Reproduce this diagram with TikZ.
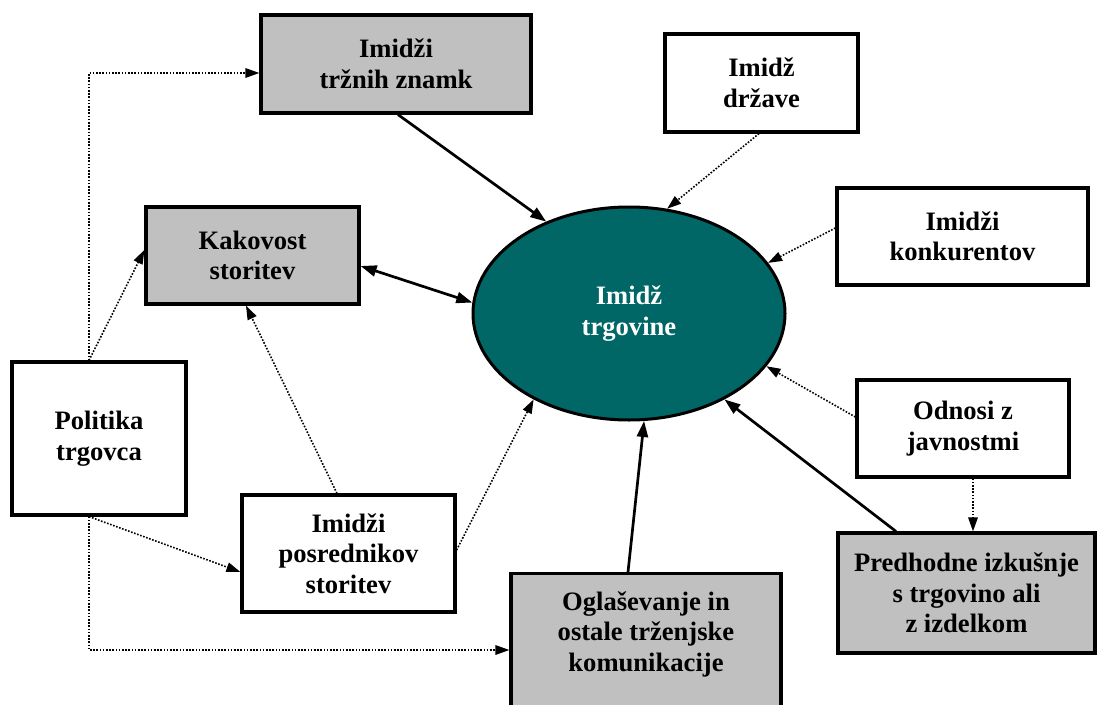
\documentclass[tikz,border=0pt]{standalone}
\usepackage{fontspec}
\setmainfont{Liberation Serif}
\usetikzlibrary{arrows.meta,shapes.geometric,calc}
\definecolor{boxgray}{HTML}{C0C0C0}
\definecolor{storeteal}{HTML}{006666}
\begin{document}
\begin{tikzpicture}[x=1pt,y=-1pt,
  txt/.style={font=\fontsize{26.6}{30.5}\selectfont\bfseries, align=center},
  plainbox/.style={txt, draw, line width=3.2pt, inner sep=0pt, fill=white},
  shadedbox/.style={plainbox, fill=boxgray},
  solidarrow/.style={line width=2.7pt, -{Triangle[length=16pt,width=11pt]}},
  twowayarrow/.style={line width=2.7pt, {Triangle[length=16pt,width=11pt]}-{Triangle[length=16pt,width=11pt]}},
  dotarrow/.style={line width=1.6pt, dash pattern=on 1.6pt off 1.6pt, -{Triangle[length=14pt,width=9.5pt]}},
]
\useasboundingbox (0,0) rectangle (1097,704);
\clip (0,0) rectangle (1097,704);

% central ellipse
\node[txt, ellipse, draw, line width=3pt, fill=storeteal, text=white,
      minimum width=312pt, minimum height=213pt, inner sep=0pt] (ell) at (629,313.5) {Imidž\\trgovine};

% surrounding factors
\node[shadedbox, minimum width=270pt, minimum height=98pt] (trz) at (396,64) {Imidži\\tržnih znamk};
\node[plainbox, minimum width=193pt, minimum height=98pt] (drz) at (761.5,83) {Imidž\\države};
\node[plainbox, minimum width=251pt, minimum height=97pt] (kon) at (962.5,236.5) {Imidži\\konkurentov};
\node[shadedbox, minimum width=213pt, minimum height=97pt] (kak) at (252.5,255.5) {Kakovost\\storitev};
\node[plainbox, minimum width=174pt, minimum height=153pt] (pol) at (99,438.5) {Politika\\trgovca};
\node[plainbox, minimum width=212pt, minimum height=97pt] (odn) at (963,428.5) {Odnosi z\\javnostmi};
\node[plainbox, minimum width=213pt, minimum height=117pt] (pos) at (348.5,553.5) {Imidži\\posrednikov\\storitev};
\node[shadedbox, minimum width=257pt, minimum height=120pt] (pre) at (966.5,593) {Predhodne izkušnje\\s trgovino ali\\z izdelkom};
\node[shadedbox, minimum width=270pt, minimum height=200pt, anchor=north] (ogl) at (646,572) {};
\node[txt] (ogltext) at ($(ogl.north)+(0,62)$) {Oglaševanje in\\ostale trženjske\\komunikacije};

% policy links (dotted)
\draw[dotarrow] ($(pol.north)+(-10,0)$) |- ($(trz.west)+(0,9)$);
\draw[dotarrow] ($(pol.north)+(-10,0)$) -- ($(kak.west)+(0,-5.5)$);
\draw[dotarrow] ($(pol.south)+(-10,0)$) -- ($(pos.west)+(0,18.5)$);
\draw[dotarrow] ($(pol.south)+(-10,0)$) |- ($(ogl.north west)+(0,78)$);

% links into the store image
\draw[solidarrow] ($(trz.south)+(2,0)$) -- (ell.132.5);
\draw[dotarrow] ($(drz.south)+(-2.5,0)$) -- (ell.70);
\draw[dotarrow] ($(kon.west)+(0,-8.5)$) -- (ell.20);
\draw[twowayarrow] ($(kak.east)+(0,10.5)$) -- (ell.176.2);
\draw[dotarrow] ($(pos.north)+(-11.5,0)$) -- ($(kak.south)+(-6.5,0)$);
\draw[dotarrow] ($(pos.east)+(0,-3.5)$) -- (ell.222);
\draw[solidarrow] ($(ogl.north)+(-18,0)$) -- (ell.278.5);
\draw[solidarrow] ($(pre.north)+(-70.5,0)$) -- (ell.318.2);
\draw[dotarrow] ($(odn.west)+(0,-11.5)$) -- (ell.339);
\draw[dotarrow] ($(odn.south)+(10,0)$) -- ($(pre.north)+(6.5,0)$);
\end{tikzpicture}
\end{document}
